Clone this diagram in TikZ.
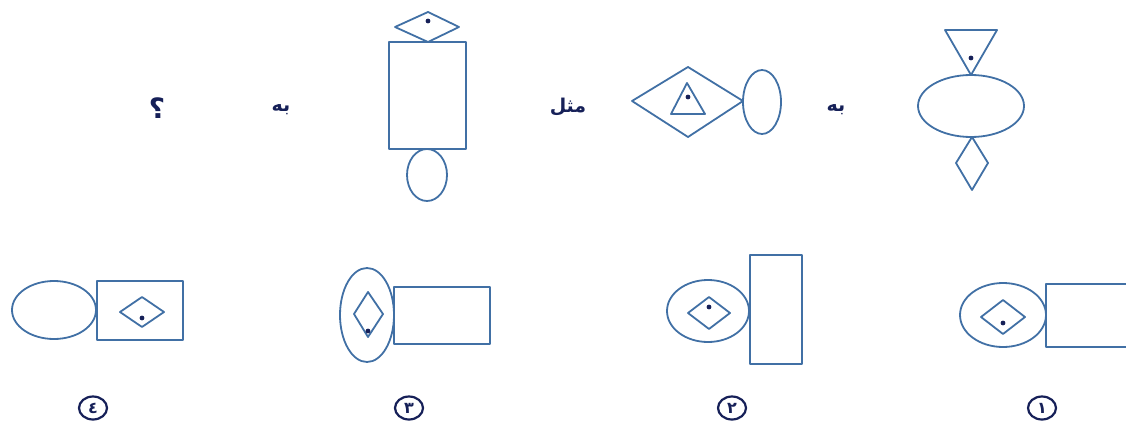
\documentclass[tikz,border=0pt]{standalone}
\usepackage{fontspec}
\usetikzlibrary{shapes.geometric}
\TeXXeTstate=1
\newfontfamily\arabicfont[Script=Arabic]{DejaVu Sans}
\definecolor{lineblue}{RGB}{65,112,165}
\definecolor{inknavy}{RGB}{22,32,88}
\begin{document}
\begin{tikzpicture}[x=1pt,y=-1pt,
  shapeline/.style={draw=lineblue, line width=1.8pt, line join=round},
  dotmark/.style={fill=inknavy},
  word/.style={text=inknavy, inner sep=0pt, font=\arabicfont\bfseries\fontsize{19}{22}\selectfont},
  qmark/.style={text=inknavy, inner sep=0pt, font=\arabicfont\bfseries\fontsize{28}{32}\selectfont},
  optnum/.style={draw=inknavy, line width=2.2pt, ellipse, minimum width=28pt, minimum height=23pt, inner sep=0pt, text=inknavy, font=\arabicfont\bfseries\fontsize{16}{18}\selectfont}]
\useasboundingbox (0,0) rectangle (1126,425);
\clip (0,0) rectangle (1126,425);

% ---- figure 1 (top right)
\draw[shapeline] (945,30) -- (997,30) -- (971,75) -- cycle;
\fill[dotmark] (971,58) circle (2.4pt);
\draw[shapeline] (971,106) ellipse [x radius=53pt, y radius=31pt];
\draw[shapeline] (972,137) -- (988,163) -- (972,190) -- (956,163) -- cycle;

\node[word] (w1) at (836,110) {\beginR به\endR};

% ---- figure 2
\draw[shapeline] (632,101) -- (688,67) -- (743,101) -- (688,137) -- cycle;
\draw[shapeline] (687,83) -- (705,114) -- (671,114) -- cycle;
\fill[dotmark] (688,97) circle (2.4pt);
\draw[shapeline] (762,102) ellipse [x radius=19pt, y radius=32pt];

\node[word] (w2) at (568,107) {\beginR مثل\endR};

% ---- figure 3
\draw[shapeline] (395,27) -- (428,12) -- (459,27) -- (428,42) -- cycle;
\fill[dotmark] (428,21) circle (2.4pt);
\draw[shapeline] (389,42) rectangle (466,149);
\draw[shapeline] (427,175) ellipse [x radius=20pt, y radius=26pt];

\node[word] (w3) at (281,110) {\beginR به\endR};
\node[qmark] (q) at (157,108) {؟};

% ---- option 4
\draw[shapeline] (54,310) ellipse [x radius=42pt, y radius=29pt];
\draw[shapeline] (97,281) rectangle (183,340);
\draw[shapeline] (120,312) -- (142,297) -- (164,312) -- (142,327) -- cycle;
\fill[dotmark] (142,318) circle (2.4pt);
\node[optnum] (o4) at (93,408) {٤};

% ---- option 3
\draw[shapeline] (367,315) ellipse [x radius=27pt, y radius=47pt];
\draw[shapeline] (368,292) -- (383,314) -- (368,337) -- (354,314) -- cycle;
\fill[dotmark] (368,331) circle (2.4pt);
\draw[shapeline] (394,287) rectangle (490,344);
\node[optnum] (o3) at (409,408) {٣};

% ---- option 2
\draw[shapeline] (708,311) ellipse [x radius=41pt, y radius=31pt];
\draw[shapeline] (688,313) -- (709,297) -- (730,313) -- (709,329) -- cycle;
\fill[dotmark] (709,307) circle (2.4pt);
\draw[shapeline] (750,255) rectangle (802,364);
\node[optnum] (o2) at (732,408) {٢};

% ---- option 1
\draw[shapeline] (1003,315) ellipse [x radius=43pt, y radius=32pt];
\draw[shapeline] (981,317) -- (1003,300) -- (1025,317) -- (1003,334) -- cycle;
\fill[dotmark] (1003,323) circle (2.4pt);
\draw[shapeline] (1140,284) -- (1046,284) -- (1046,347) -- (1140,347);
\node[optnum] (o1) at (1042,408) {١};
\end{tikzpicture}
\end{document}
